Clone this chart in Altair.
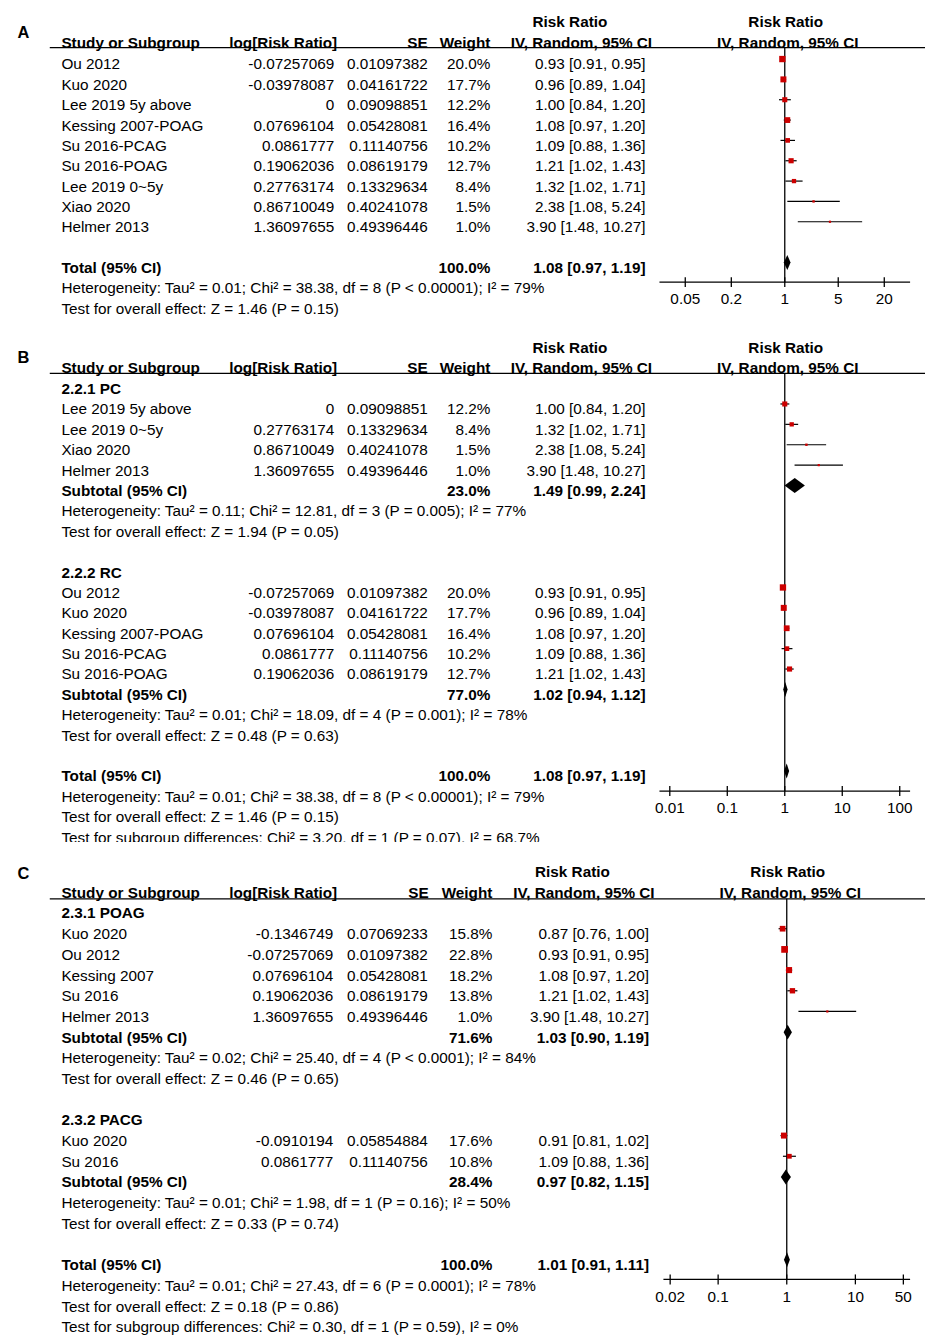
import math
import altair as alt
import pandas as pd

# ---------------- data ----------------
# Panel A
A_study = ["Ou 2012", "Kuo 2020", "Lee 2019 5y above", "Kessing 2007-POAG", "Su 2016-PCAG",
           "Su 2016-POAG", "Lee 2019 0~5y", "Xiao 2020", "Helmer 2013"]
A_logrr = ["-0.07257069", "-0.03978087", "0", "0.07696104", "0.0861777", "0.19062036",
           "0.27763174", "0.86710049", "1.36097655"]
A_se = ["0.01097382", "0.04161722", "0.09098851", "0.05428081", "0.11140756", "0.08619179",
        "0.13329634", "0.40241078", "0.49396446"]
A_weight = [20.0, 17.7, 12.2, 16.4, 10.2, 12.7, 8.4, 1.5, 1.0]
A_rr = [0.93, 0.96, 1.00, 1.08, 1.09, 1.21, 1.32, 2.38, 3.90]
A_lo = [0.91, 0.89, 0.84, 0.97, 0.88, 1.02, 1.02, 1.08, 1.48]
A_hi = [0.95, 1.04, 1.20, 1.20, 1.36, 1.43, 1.71, 5.24, 10.27]
A_total = [100.0, 1.08, 0.97, 1.19]
A_total_notes = ["Heterogeneity: Tau² = 0.01; Chi² = 38.38, df = 8 (P < 0.00001); I² = 79%",
                 "Test for overall effect: Z = 1.46 (P = 0.15)"]
A_ticks = [0.05, 0.2, 1, 5, 20]
A_tick_labels = ["0.05", "0.2", "1", "5", "20"]

# Panel B
B1_title = "2.2.1 PC"
B1_study = ["Lee 2019 5y above", "Lee 2019 0~5y", "Xiao 2020", "Helmer 2013"]
B1_logrr = ["0", "0.27763174", "0.86710049", "1.36097655"]
B1_se = ["0.09098851", "0.13329634", "0.40241078", "0.49396446"]
B1_weight = [12.2, 8.4, 1.5, 1.0]
B1_rr = [1.00, 1.32, 2.38, 3.90]
B1_lo = [0.84, 1.02, 1.08, 1.48]
B1_hi = [1.20, 1.71, 5.24, 10.27]
B1_sub = [23.0, 1.49, 0.99, 2.24]
B1_notes = ["Heterogeneity: Tau² = 0.11; Chi² = 12.81, df = 3 (P = 0.005); I² = 77%",
            "Test for overall effect: Z = 1.94 (P = 0.05)"]
B2_title = "2.2.2 RC"
B2_study = ["Ou 2012", "Kuo 2020", "Kessing 2007-POAG", "Su 2016-PCAG", "Su 2016-POAG"]
B2_logrr = ["-0.07257069", "-0.03978087", "0.07696104", "0.0861777", "0.19062036"]
B2_se = ["0.01097382", "0.04161722", "0.05428081", "0.11140756", "0.08619179"]
B2_weight = [20.0, 17.7, 16.4, 10.2, 12.7]
B2_rr = [0.93, 0.96, 1.08, 1.09, 1.21]
B2_lo = [0.91, 0.89, 0.97, 0.88, 1.02]
B2_hi = [0.95, 1.04, 1.20, 1.36, 1.43]
B2_sub = [77.0, 1.02, 0.94, 1.12]
B2_notes = ["Heterogeneity: Tau² = 0.01; Chi² = 18.09, df = 4 (P = 0.001); I² = 78%",
            "Test for overall effect: Z = 0.48 (P = 0.63)"]
B_total = [100.0, 1.08, 0.97, 1.19]
B_total_notes = ["Heterogeneity: Tau² = 0.01; Chi² = 38.38, df = 8 (P < 0.00001); I² = 79%",
                 "Test for overall effect: Z = 1.46 (P = 0.15)",
                 "Test for subgroup differences: Chi² = 3.20, df = 1 (P = 0.07), I² = 68.7%"]
B_ticks = [0.01, 0.1, 1, 10, 100]
B_tick_labels = ["0.01", "0.1", "1", "10", "100"]

# Panel C
C1_title = "2.3.1 POAG"
C1_study = ["Kuo 2020", "Ou 2012", "Kessing 2007", "Su 2016", "Helmer 2013"]
C1_logrr = ["-0.1346749", "-0.07257069", "0.07696104", "0.19062036", "1.36097655"]
C1_se = ["0.07069233", "0.01097382", "0.05428081", "0.08619179", "0.49396446"]
C1_weight = [15.8, 22.8, 18.2, 13.8, 1.0]
C1_rr = [0.87, 0.93, 1.08, 1.21, 3.90]
C1_lo = [0.76, 0.91, 0.97, 1.02, 1.48]
C1_hi = [1.00, 0.95, 1.20, 1.43, 10.27]
C1_sub = [71.6, 1.03, 0.90, 1.19]
C1_notes = ["Heterogeneity: Tau² = 0.02; Chi² = 25.40, df = 4 (P < 0.0001); I² = 84%",
            "Test for overall effect: Z = 0.46 (P = 0.65)"]
C2_title = "2.3.2 PACG"
C2_study = ["Kuo 2020", "Su 2016"]
C2_logrr = ["-0.0910194", "0.0861777"]
C2_se = ["0.05854884", "0.11140756"]
C2_weight = [17.6, 10.8]
C2_rr = [0.91, 1.09]
C2_lo = [0.81, 0.88]
C2_hi = [1.02, 1.36]
C2_sub = [28.4, 0.97, 0.82, 1.15]
C2_notes = ["Heterogeneity: Tau² = 0.01; Chi² = 1.98, df = 1 (P = 0.16); I² = 50%",
            "Test for overall effect: Z = 0.33 (P = 0.74)"]
C_total = [100.0, 1.01, 0.91, 1.11]
C_total_notes = ["Heterogeneity: Tau² = 0.01; Chi² = 27.43, df = 6 (P = 0.0001); I² = 78%",
                 "Test for overall effect: Z = 0.18 (P = 0.86)",
                 "Test for subgroup differences: Chi² = 0.30, df = 1 (P = 0.59), I² = 0%"]
C_ticks = [0.02, 0.1, 1, 10, 50]
C_tick_labels = ["0.02", "0.1", "1", "10", "50"]

# ---------------- styling / layout ----------------
FONT = "Liberation Sans"
FS = 15.4
RED = "#cc0000"
W = 922
DIAMOND_HALF = 7.5   # px
FOREST_SHIFT = -4.5  # px


def ci_text(rr, lo, hi):
    return f"{rr:.2f} [{lo:.2f}, {hi:.2f}]"


def build(groups, total, total_notes):
    texts, studies, diamonds = [], [], []
    r = 0
    for g in groups:
        if g.get("title"):
            texts.append(dict(row=r, col="name", text=g["title"], bold=True))
            r += 1
        for i, name in enumerate(g["study"]):
            texts += [
                dict(row=r, col="name", text=name, bold=False),
                dict(row=r, col="logrr", text=g["logrr"][i], bold=False),
                dict(row=r, col="se", text=g["se"][i], bold=False),
                dict(row=r, col="wt", text=f"{g['weight'][i]:.1f}%", bold=False),
                dict(row=r, col="ci", text=ci_text(g["rr"][i], g["lo"][i], g["hi"][i]), bold=False),
            ]
            studies.append(dict(row=r, rr=g["rr"][i], lo=g["lo"][i], hi=g["hi"][i],
                                weight=g["weight"][i]))
            r += 1
        if g.get("sub"):
            w, est, lo, hi = g["sub"]
            texts += [
                dict(row=r, col="name", text="Subtotal (95% CI)", bold=True),
                dict(row=r, col="wt", text=f"{w:.1f}%", bold=True),
                dict(row=r, col="ci", text=ci_text(est, lo, hi), bold=True),
            ]
            diamonds.append((r, est, lo, hi))
            r += 1
        for n in g.get("notes", []):
            texts.append(dict(row=r, col="name", text=n, bold=False))
            r += 1
        r += 1
    w, est, lo, hi = total
    texts += [
        dict(row=r, col="name", text="Total (95% CI)", bold=True),
        dict(row=r, col="wt", text=f"{w:.1f}%", bold=True),
        dict(row=r, col="ci", text=ci_text(est, lo, hi), bold=True),
    ]
    diamonds.append((r, est, lo, hi))
    r += 1
    for n in total_notes:
        texts.append(dict(row=r, col="name", text=n, bold=False))
        r += 1
    dpts = []
    for k, (row, est, lo, hi) in enumerate(diamonds):
        dpts += [dict(id=k, x=lo, row=row, dy=0.0), dict(id=k, x=est, row=row, dy=1.0),
                 dict(id=k, x=hi, row=row, dy=0.0)]
    return pd.DataFrame(texts), pd.DataFrame(studies), pd.DataFrame(dpts)


def panel(cfg, texts, studies, dpts, ticks, tick_labels, letter):
    s = cfg["s"]
    y0 = cfg["y0"]
    H = cfg["H"]

    def prow(px):
        return (px - y0) / s

    yscale = alt.Scale(domain=[prow(0), prow(H)], reverse=True, nice=False, zero=False)
    lo_log = (cfg["xr"][0] - cfg["xc"]) / cfg["k"]
    hi_log = (cfg["xr"][1] - cfg["xc"]) / cfg["k"]
    dmin, dmax = 10 ** lo_log, 10 ** hi_log
    xscale = alt.Scale(type="log", domain=[dmin, dmax], range=list(cfg["xr"]), nice=False)

    def Y(f):
        return alt.Y(f, type="quantitative", scale=yscale, axis=None)

    def X(f):
        return alt.X(f, type="quantitative", scale=xscale, axis=None)

    layers = []
    clip = cfg.get("clip", False)

    def tlayer(df, x, align, bold):
        return alt.Chart(df).mark_text(
            align=align, baseline="middle", font=FONT, fontSize=FS,
            fontWeight="bold" if bold else "normal", color="black", clip=clip, dy=1
        ).encode(x=alt.value(x), y=Y("row"), text="text:N")

    cols = cfg["cols"]
    for col, (x, align) in cols.items():
        for bold in (False, True):
            sub = texts[(texts["col"] == col) & (texts["bold"] == bold)]
            if len(sub):
                layers.append(tlayer(sub[["row", "text"]].reset_index(drop=True), x, align, bold))

    # headers
    for (txt, x, align, py) in cfg["headers"]:
        hdf = pd.DataFrame({"row": [prow(py)], "text": [txt]})
        layers.append(tlayer(hdf, x, align, True))
    # panel letter
    ldf = pd.DataFrame({"row": [prow(cfg["letter_y"])], "text": [letter]})
    layers.append(alt.Chart(ldf).mark_text(align="center", baseline="middle", font=FONT,
                                           fontSize=16.5, fontWeight="bold", color="black", dy=1)
                  .encode(x=alt.value(15.5), y=Y("row"), text="text:N"))

    # header underline
    udf = pd.DataFrame({"row": [prow(cfg["line_y"])]})
    layers.append(alt.Chart(udf).mark_rule(color="black", strokeWidth=1.3)
                  .encode(x=alt.value(42), x2=alt.value(W), y=Y("row")))

    axis_row = prow(cfg["axis_y"])
    # line of no effect
    vdf = pd.DataFrame({"one": [1.0], "r1": [prow(cfg["line_y"])], "r2": [axis_row]})
    layers.append(alt.Chart(vdf).mark_rule(color="black", strokeWidth=1.3)
                  .encode(x=X("one"), y=Y("r1"), y2="r2:Q"))

    # CI lines
    layers.append(alt.Chart(studies).mark_rule(color="black", strokeWidth=1.2, yOffset=FOREST_SHIFT)
                  .encode(x=X("lo"), x2="hi:Q", y=Y("row")))
    # squares
    layers.append(alt.Chart(studies).mark_square(color=RED, filled=True, opacity=1,
                                                 yOffset=FOREST_SHIFT)
                  .encode(x=X("rr"), y=Y("row"),
                          size=alt.Size("weight:Q", scale=alt.Scale(domain=[0, 25], range=[3, 50]),
                                        legend=None)))
    # diamonds
    half = DIAMOND_HALF / s
    d = dpts.copy()
    d["yt"] = d["row"] - d["dy"] * half
    d["yb"] = d["row"] + d["dy"] * half
    layers.append(alt.Chart(d).mark_area(color="black", opacity=1, yOffset=FOREST_SHIFT,
                                         y2Offset=FOREST_SHIFT)
                  .encode(x=X("x"), y=Y("yt"), y2="yb:Q", detail="id:N"))

    # forest axis: line, ticks, labels
    adf = pd.DataFrame({"a": [dmin], "b": [dmax], "row": [axis_row]})
    layers.append(alt.Chart(adf).mark_rule(color="black", strokeWidth=1.3)
                  .encode(x=X("a"), x2="b:Q", y=Y("row")))
    tdf = pd.DataFrame({"t": ticks, "lab": tick_labels,
                        "r1": [axis_row - 5 / s] * len(ticks),
                        "r2": [axis_row + 5 / s] * len(ticks),
                        "rl": [prow(cfg["label_y"])] * len(ticks)})
    layers.append(alt.Chart(tdf).mark_rule(color="black", strokeWidth=1.3)
                  .encode(x=X("t"), y=Y("r1"), y2="r2:Q"))
    layers.append(alt.Chart(tdf).mark_text(align="center", baseline="middle", font=FONT,
                                           fontSize=FS, color="black", dy=1)
                  .encode(x=X("t"), y=Y("rl"), text="lab:N"))

    return alt.layer(*layers).properties(width=W, height=H)


COLS_AB = {"name": (53.7, "left"), "logrr": (328, "right"), "se": (422, "right"),
           "wt": (485, "right"), "ci": (641, "right")}
COLS_C = {"name": (53.7, "left"), "logrr": (327, "right"), "se": (422, "right"),
          "wt": (487, "right"), "ci": (644.5, "right")}


def headers(py1, py2, rr_c, iv_c, frr_c, fiv_c, lr_r, se_r, wt_r):
    return [
        ("Risk Ratio", rr_c, "center", py1),
        ("Risk Ratio", frr_c, "center", py1),
        ("Study or Subgroup", 53.7, "left", py2),
        ("log[Risk Ratio]", lr_r, "right", py2),
        ("SE", se_r, "right", py2),
        ("Weight", wt_r, "right", py2),
        ("IV, Random, 95% CI", iv_c, "center", py2),
        ("IV, Random, 95% CI", fiv_c, "center", py2),
    ]


cfgA = dict(H=318, y0=52.2, s=20.45, cols=COLS_AB,
            headers=headers(9.5, 30.7, 565, 576.5, 782, 784, 331, 422, 485),
            letter_y=21, line_y=36.3, axis_y=272, label_y=287.5,
            xc=781, k=76.9, xr=(655, 907))
cfgB = dict(H=517, y0=60.5, s=20.5, cols=COLS_AB, clip=True,
            headers=headers(19.3, 39.7, 565, 576.5, 782, 784, 331, 422, 485),
            letter_y=29.5, line_y=45.7, axis_y=465.7, label_y=481.5,
            xc=781, k=57.8, xr=(655, 907))
cfgC = dict(H=496, y0=70.8, s=20.8, cols=COLS_C,
            headers=headers(29.5, 50.5, 567.5, 579, 784, 786.5, 331, 423, 487),
            letter_y=31.5, line_y=57, axis_y=439.7, label_y=456.2,
            xc=783, k=69, xr=(659, 907))

tA, sA, dA = build([dict(title=None, study=A_study, logrr=A_logrr, se=A_se, weight=A_weight,
                         rr=A_rr, lo=A_lo, hi=A_hi)], A_total, A_total_notes)
tB, sB, dB = build([
    dict(title=B1_title, study=B1_study, logrr=B1_logrr, se=B1_se, weight=B1_weight,
         rr=B1_rr, lo=B1_lo, hi=B1_hi, sub=B1_sub, notes=B1_notes),
    dict(title=B2_title, study=B2_study, logrr=B2_logrr, se=B2_se, weight=B2_weight,
         rr=B2_rr, lo=B2_lo, hi=B2_hi, sub=B2_sub, notes=B2_notes),
], B_total, B_total_notes)
tC, sC, dC = build([
    dict(title=C1_title, study=C1_study, logrr=C1_logrr, se=C1_se, weight=C1_weight,
         rr=C1_rr, lo=C1_lo, hi=C1_hi, sub=C1_sub, notes=C1_notes),
    dict(title=C2_title, study=C2_study, logrr=C2_logrr, se=C2_se, weight=C2_weight,
         rr=C2_rr, lo=C2_lo, hi=C2_hi, sub=C2_sub, notes=C2_notes),
], C_total, C_total_notes)

pA = panel(cfgA, tA, sA, dA, A_ticks, A_tick_labels, "A")
pB = panel(cfgB, tB, sB, dB, B_ticks, B_tick_labels, "B")
pC = panel(cfgC, tC, sC, dC, C_ticks, C_tick_labels, "C")

chart = (
    alt.vconcat(pA, pB, pC, spacing=0)
    .resolve_scale(x="independent", y="independent", size="independent")
    .properties(padding={"left": 0, "top": 0, "right": 0, "bottom": 0}, background="white")
    .configure_view(stroke=None)
)

chart.save("out.html", embed_options={"renderer": "svg", "actions": False})
